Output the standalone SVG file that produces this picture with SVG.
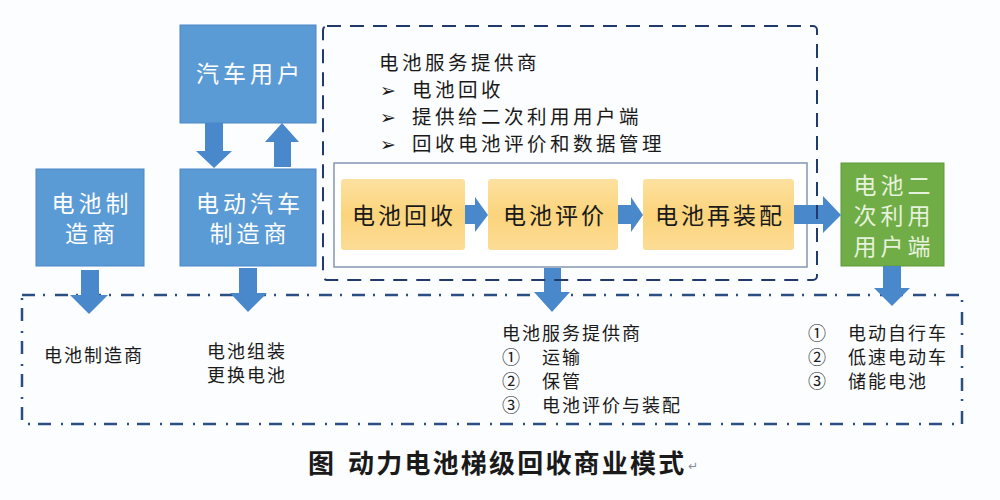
<svg xmlns="http://www.w3.org/2000/svg" width="1000" height="500" viewBox="0 0 1000 500">
<defs>
<linearGradient id="og" x1="0" y1="0" x2="0" y2="1">
<stop offset="0" stop-color="#fde1a0"/>
<stop offset="0.5" stop-color="#fbd47c"/>
<stop offset="1" stop-color="#fcdc96"/>
</linearGradient>
<style>
.cjk{font-family:"Noto Sans CJK SC","Noto Sans",sans-serif;}
.bl{fill:#5b9bd5;stroke:#4a86c4;stroke-width:1;}
.bt{font-size:23px;fill:#ffffff;letter-spacing:4px;text-anchor:middle;}
.or{fill:url(#og);}
.ot{font-size:23px;fill:#1a1a1a;letter-spacing:3px;text-anchor:middle;}
.gr{fill:#70ad47;stroke:#5f9a3c;stroke-width:1;}
.gt{font-size:23px;fill:#e6f2dc;letter-spacing:4px;text-anchor:middle;}
.tt{font-size:19.5px;fill:#1a1a1a;letter-spacing:3.5px;}
.st{font-size:18px;fill:#1a1a1a;letter-spacing:2px;}
.ar{fill:#4a88cc;}
.mk{font-family:"DejaVu Sans",sans-serif;font-size:19px;fill:#1a1a1a;}
</style>
</defs>
<rect x="0" y="0" width="1000" height="500" fill="#fcfdfe"/>

<g id="bottom-container">
<rect x="22" y="295" width="940" height="129" fill="none" stroke="#2b4f82" stroke-width="2.5" stroke-dasharray="13 8 2 10"/>
<text class="cjk st" x="44" y="362">电池制造商</text>
<text class="cjk st" x="207" y="358">电池组装</text>
<text class="cjk st" x="207" y="382">更换电池</text>
<text class="cjk st" x="502" y="340">电池服务提供商</text>
<text class="cjk st" x="502" y="364">①</text><text class="cjk st" x="542" y="364">运输</text>
<text class="cjk st" x="502" y="388">②</text><text class="cjk st" x="542" y="388">保管</text>
<text class="cjk st" x="502" y="412">③</text><text class="cjk st" x="542" y="412">电池评价与装配</text>
<text class="cjk st" x="808" y="340">①</text><text class="cjk st" x="848" y="340">电动自行车</text>
<text class="cjk st" x="808" y="364">②</text><text class="cjk st" x="848" y="364">低速电动车</text>
<text class="cjk st" x="808" y="388">③</text><text class="cjk st" x="848" y="388">储能电池</text>
</g>

<g id="process-frame">
<rect x="334" y="163" width="473" height="104" fill="#ffffff" stroke="#8496b0" stroke-width="1.5"/>
</g>

<g id="car-user">
<rect class="bl" x="180" y="25" width="136" height="98"/>
<text class="cjk bt" x="250" y="82">汽车用户</text>
</g>
<g id="battery-maker">
<rect class="bl" x="36" y="169" width="108" height="97"/>
<text class="cjk bt" x="92" y="212">电池制</text>
<text class="cjk bt" x="92" y="242">造商</text>
</g>
<g id="ev-maker">
<rect class="bl" x="180" y="169" width="136" height="97"/>
<text class="cjk bt" x="250" y="212">电动汽车</text>
<text class="cjk bt" x="250" y="242">制造商</text>
</g>
<g id="recycle">
<rect class="or" x="341" y="179" width="124" height="71" rx="3"/>
<text class="cjk ot" x="404" y="224">电池回收</text>
</g>
<g id="evaluate">
<rect class="or" x="488" y="179" width="130" height="71" rx="3"/>
<text class="cjk ot" x="555" y="224">电池评价</text>
</g>
<g id="reassemble">
<rect class="or" x="643" y="179" width="151" height="71" rx="3"/>
<text class="cjk ot" x="720" y="224">电池再装配</text>
</g>
<g id="second-use">
<rect class="gr" x="841" y="163" width="103" height="103"/>
<text class="cjk gt" x="894" y="194">电池二</text>
<text class="cjk gt" x="894" y="224">次利用</text>
<text class="cjk gt" x="894" y="255">用户端</text>
</g>

<g id="connectors">
<polygon class="ar" points="205,123 223,123 223,151 232,151 214,168 196,151 205,151"/>
<polygon class="ar" points="282,123 299,142 291,142 291,167 274,167 274,142 265,142"/>
<polygon class="ar" points="81,270 99,270 99,295 108,295 89,314 70,295 81,295"/>
<polygon class="ar" points="239,268 257,268 257,293 267,293 248,312 230,293 239,293"/>
<polygon class="ar" points="544,268 561,268 561,292 570,292 552,312 534,292 544,292"/>
<polygon class="ar" points="883,266 901,266 901,288 910,288 892,306 874,288 883,288"/>
<polygon class="ar" points="465,205 475,205 475,197 488,215 475,232 475,224 465,224"/>
<polygon class="ar" points="618,205 631,205 631,197 643,215 631,232 631,224 618,224"/>
<polygon class="ar" points="794,205 823,205 823,196 841,215 823,233 823,224 794,224"/>
</g>

<g id="service-provider">
<rect x="323" y="26" width="494" height="254" rx="4" fill="none" stroke="#1f3a6b" stroke-width="2" stroke-dasharray="14 9"/>
<text class="cjk tt" x="379" y="70">电池服务提供商</text>
<text class="mk" x="380" y="97">➢</text><text class="cjk tt" x="412" y="97">电池回收</text>
<text class="mk" x="380" y="124">➢</text><text class="cjk tt" x="412" y="124">提供给二次利用用户端</text>
<text class="mk" x="380" y="151">➢</text><text class="cjk tt" x="412" y="151">回收电池评价和数据管理</text>
</g>

<g id="caption">
<text class="cjk" x="308" y="473" font-size="26" font-weight="700" fill="#1a1a1a">图</text>
<text class="cjk" x="348" y="473" font-size="26" font-weight="700" fill="#1a1a1a" letter-spacing="2.2">动力电池梯级回收商业模式</text>
<text x="688" y="470" font-family="DejaVu Sans,sans-serif" font-size="12" fill="#8a8aa0">↵</text>
</g>
</svg>
